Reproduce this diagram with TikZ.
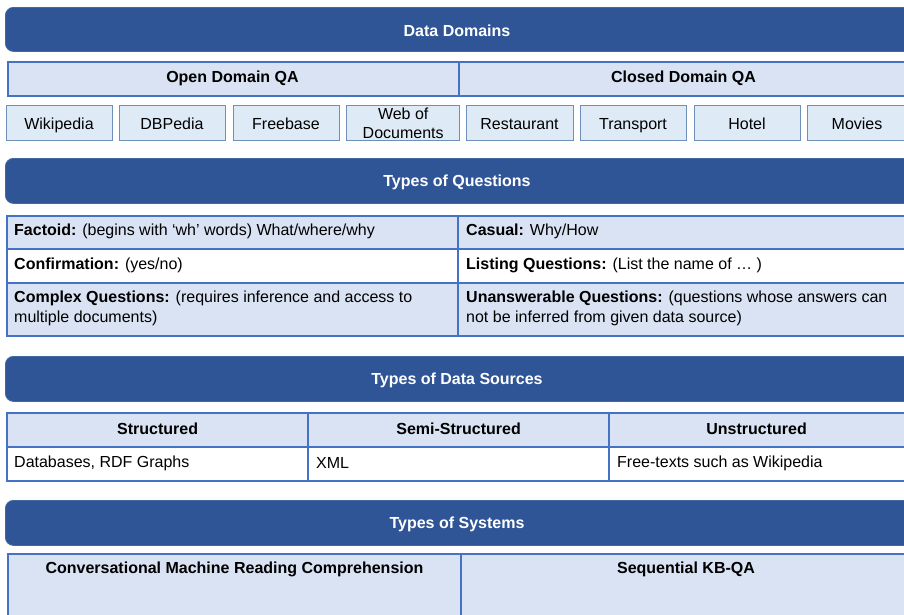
\documentclass[tikz,border=0pt]{standalone}
\usepackage{fontspec}
\setmainfont{Liberation Sans}
\definecolor{bannerbg}{HTML}{2F5597}
\definecolor{bannerln}{HTML}{41699F}
\definecolor{cellfill}{HTML}{DAE3F3}
\definecolor{cellline}{HTML}{4472C4}
\definecolor{boxfill}{HTML}{DEEBF7}
\definecolor{boxline}{HTML}{6E8FBA}
\tikzset{
  reg/.style={font=\fontsize{16}{19.5}\selectfont},
  bld/.style={font=\fontsize{16}{19.5}\selectfont\bfseries},
  banner/.style={draw=bannerln, line width=0.8pt, fill=bannerbg, rounded corners=8pt, anchor=north west, inner sep=0pt},
  bannertext/.style={bld, text=white, inner sep=0pt},
  cell/.style={draw=cellline, line width=2.2pt, fill=cellfill, anchor=north west, inner sep=0pt},
  wcell/.style={cell, fill=white},
  srcbox/.style={draw=boxline, line width=1.4pt, fill=boxfill, anchor=north west, inner sep=0pt, minimum height=35pt},
  txt/.style={reg, inner sep=0pt, align=left, anchor=west},
  ctxt/.style={reg, inner sep=0pt, align=center},
  btxt/.style={bld, inner sep=0pt, align=center},
}
\begin{document}
\begin{tikzpicture}[x=1pt, y=-1pt]
\useasboundingbox (0,0) rectangle (904,614);
\fill[white] (0,0) rectangle (904,614);

% ---------- Data Domains ----------
\node[banner, minimum width=920pt, minimum height=44pt] (b1) at (5,7) {};
\node[bannertext] (b1t) at (457,30.5) {Data Domains};

\node[cell, minimum width=451pt, minimum height=34pt] (open) at (7,61) {};
\node[cell, minimum width=460pt, minimum height=34pt] (closed) at (458,61) {};
\node[btxt] (opent) at (232.5,78) {Open Domain QA};
\node[btxt] (closedt) at (683.5,78) {Closed Domain QA};

\node[srcbox, minimum width=106pt] (s1) at (6,105) {};
\node[srcbox, minimum width=106pt] (s2) at (119,105) {};
\node[srcbox, minimum width=106pt] (s3) at (233,105) {};
\node[srcbox, minimum width=113pt] (s4) at (346,105) {};
\node[srcbox, minimum width=107pt] (s5) at (466,105) {};
\node[srcbox, minimum width=106pt] (s6) at (580,105) {};
\node[srcbox, minimum width=106pt] (s7) at (694,105) {};
\node[srcbox, minimum width=100pt] (s8) at (807,105) {};
\node[ctxt, anchor=base] (s1t) at (59,129) {Wikipedia};
\node[ctxt, anchor=base] (s2t) at (172,129) {DBPedia};
\node[ctxt, anchor=base] (s3t) at (286,129) {Freebase};
\node[ctxt, font=\fontsize{16}{19}\selectfont] (s4t) at ([yshift=-0.5pt]s4.center) {Web of\\Documents};
\node[ctxt, anchor=base] (s5t) at (519.5,129) {Restaurant};
\node[ctxt, anchor=base] (s6t) at (633,129) {Transport};
\node[ctxt, anchor=base] (s7t) at (747,129) {Hotel};
\node[ctxt, anchor=base] (s8t) at (857,129) {Movies};

% ---------- Types of Questions ----------
\node[banner, minimum width=920pt, minimum height=45pt] (b2) at (5,158) {};
\node[bannertext] (b2t) at (457,182.5) {Types of Questions};

\node[cell, minimum width=451pt, minimum height=33pt] (q1) at (6,215) {};
\node[cell, minimum width=452pt, minimum height=33pt] (q2) at (457,215) {};
\node[wcell, minimum width=451pt, minimum height=34pt] (q3) at (6,248) {};
\node[wcell, minimum width=452pt, minimum height=34pt] (q4) at (457,248) {};
\node[cell, minimum width=451pt, minimum height=53pt] (q5) at (6,282) {};
\node[cell, minimum width=452pt, minimum height=53pt] (q6) at (457,282) {};
\node[txt] (q1t) at ([xshift=8pt, yshift=1.5pt]q1.west) {\textbf{Factoid:} (begins with ‘wh’ words) What/where/why};
\node[txt] (q2t) at ([xshift=9pt, yshift=1.5pt]q2.west) {\textbf{Casual:} Why/How};
\node[txt] (q3t) at ([xshift=8pt, yshift=1pt]q3.west) {\textbf{Confirmation:} (yes/no)};
\node[txt] (q4t) at ([xshift=9pt, yshift=1pt]q4.west) {\textbf{Listing Questions:} (List the name of … )};
\node[txt] (q5t) at ([xshift=8pt, yshift=1pt]q5.west) {\textbf{Complex Questions:} (requires inference and access to\\multiple documents)};
\node[txt] (q6t) at ([xshift=9pt, yshift=1pt]q6.west) {\textbf{Unanswerable Questions:} (questions whose answers can\\not be inferred from given data source)};

% ---------- Types of Data Sources ----------
\node[banner, minimum width=920pt, minimum height=45pt] (b3) at (5,356) {};
\node[bannertext] (b3t) at (457,380.5) {Types of Data Sources};

\node[cell, minimum width=301pt, minimum height=34pt] (d1) at (6,412) {};
\node[cell, minimum width=301pt, minimum height=34pt] (d2) at (307,412) {};
\node[cell, minimum width=301pt, minimum height=34pt] (d3) at (608,412) {};
\node[wcell, minimum width=301pt, minimum height=34pt] (d4) at (6,446) {};
\node[wcell, minimum width=301pt, minimum height=34pt] (d5) at (307,446) {};
\node[wcell, minimum width=301pt, minimum height=34pt] (d6) at (608,446) {};
\node[btxt] (d1t) at ([yshift=1.5pt]d1.center) {Structured};
\node[btxt] (d2t) at ([yshift=1.5pt]d2.center) {Semi-Structured};
\node[btxt] (d3t) at ([xshift=-3pt, yshift=1.5pt]d3.center) {Unstructured};
\node[txt] (d4t) at ([xshift=8pt, yshift=1pt]d4.west) {Databases, RDF Graphs};
\node[txt] (d5t) at ([xshift=9pt, yshift=1pt]d5.west) {XML};
\node[txt] (d6t) at ([xshift=9pt, yshift=1pt]d6.west) {Free-texts such as Wikipedia};

% ---------- Types of Systems ----------
\node[banner, minimum width=920pt, minimum height=45pt] (b4) at (5,500) {};
\node[bannertext] (b4t) at (457,524.5) {Types of Systems};

\node[cell, minimum width=453pt, minimum height=70pt] (y1) at (7,553) {};
\node[cell, minimum width=449pt, minimum height=70pt] (y2) at (460,553) {};
\node[btxt] (y1t) at (234.5,569.5) {Conversational Machine Reading Comprehension};
\node[btxt] (y2t) at (686,569.5) {Sequential KB-QA};
\end{tikzpicture}
\end{document}
